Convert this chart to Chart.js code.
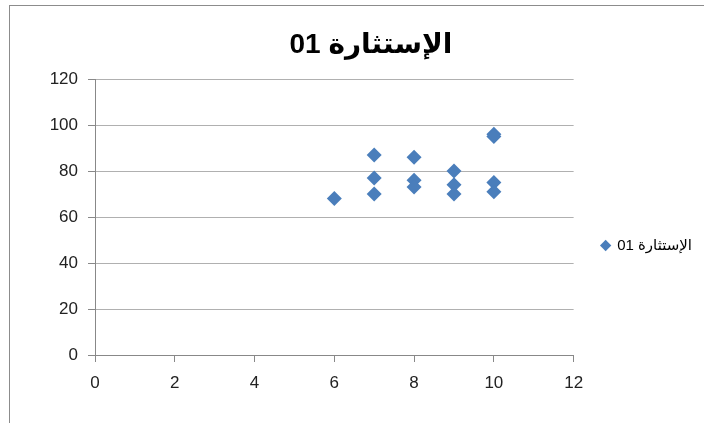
<!DOCTYPE html>
<html>
<head>
<meta charset="utf-8">
<script src="https://cdn.jsdelivr.net/npm/chart.js@4.4.0/dist/chart.umd.min.js"></script>
<style>
  body { margin: 0; background: #fff; }
  #wrap { position: relative; width: 708px; height: 423px; overflow: hidden; }
  #frame { position: absolute; left: 9px; top: 5px; width: 694px; height: 430px;
           border-left: 1px solid #8c8c8c; border-top: 1px solid #8c8c8c; }
  #chart { position: absolute; left: 0; top: 0; direction: rtl; }
</style>
</head>
<body>
<div id="wrap">
  <div id="frame"></div>
  <canvas id="chart" width="708" height="423"></canvas>
</div>
<script>
// scores
const seriesName = "الإستثارة 01";
const xValues = [6, 7, 7, 7, 8, 8, 8, 9, 9, 9, 10, 10, 10, 10];
const yValues = [68, 87, 77, 70, 86, 76, 73, 80, 74, 70, 96, 95, 75, 71];
const xTicks = [0, 2, 4, 6, 8, 10, 12];
const yTicks = [0, 20, 40, 60, 80, 100, 120];

const points = xValues.map((x, i) => ({ x: x, y: yValues[i] }));

Chart.defaults.font.family = "'Liberation Sans', 'DejaVu Sans', sans-serif";

const ctx = document.getElementById("chart").getContext("2d");
const scatterChart = new Chart(ctx, {
    type: "scatter",
    data: {
        datasets: [{
            label: seriesName,
            data: points,
            pointStyle: "rectRot",
            pointRadius: 7.5,
            pointBorderWidth: 0,
            backgroundColor: "#4a7ebb",
            borderColor: "#4a7ebb",
        }],
    },
    options: {
        responsive: false,
        animation: false,
        devicePixelRatio: 1,
        layout: {
            padding: { left: 40, right: 6, top: 18, bottom: 10 },
        },
        plugins: {
            title: {
                display: true,
                text: seriesName,
                color: "#000",
                font: { size: 28, weight: "bold" },
                padding: { top: 10, bottom: 17.4 },
            },
            legend: {
                position: "right",
                textDirection: "rtl",
                // blank legend title only pushes the item down to where the original sits
                title: { display: true, text: " ", font: { size: 10 }, padding: { top: 0, bottom: 48 } },
                labels: {
                    usePointStyle: true,
                    boxWidth: 8,
                    boxHeight: 8,
                    padding: 28,
                    color: "#000",
                    font: { size: 15 },
                },
            },
            tooltip: { enabled: false },
        },
        scales: {
            x: {
                type: "linear",
                min: xTicks[0],
                max: xTicks[xTicks.length - 1],
                afterBuildTicks: (scale) => { scale.ticks = xTicks.map(v => ({ value: v })); },
                afterFit: (scale) => { scale.height = 58; },
                grid: { drawOnChartArea: false, tickLength: 7, tickColor: "#888" },
                border: { color: "#888" },
                ticks: { color: "#222", font: { size: 17 }, padding: 11 },
            },
            y: {
                min: yTicks[0],
                max: yTicks[yTicks.length - 1],
                afterBuildTicks: (scale) => { scale.ticks = yTicks.map(v => ({ value: v })); },
                afterFit: (scale) => { scale.width = 55; },
                grid: { color: "#b0b0b0", tickLength: 7, tickColor: "#888" },
                border: { color: "#888" },
                ticks: { color: "#222", font: { size: 17 }, padding: 10 },
            },
        },
    },
});
</script>
</body>
</html>
